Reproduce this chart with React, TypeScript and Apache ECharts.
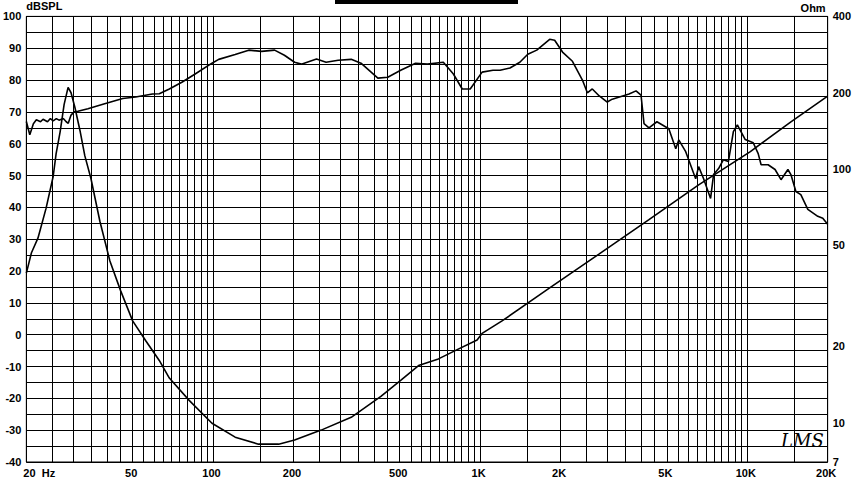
import React, { useEffect, useRef } from "react";
import * as echarts from "echarts";

// SPL response (Hz, dBSPL)
const splFreq = [20, 20.6, 21.25, 21.8, 22.6, 23.1, 24, 24.6, 25.2, 25.9, 26.5, 27.5, 28.2, 28.7, 29.4, 30.2, 31.2, 34, 38.7, 45.9, 51.3, 59.3, 62.9, 68.6, 76.7, 85.7, 99.1, 105, 121, 136, 152, 170, 185, 202, 214, 244, 265, 294, 329, 358, 414, 451, 504, 573, 635, 728, 794, 857, 918, 1017, 1117, 1187, 1293, 1408, 1508, 1629, 1821, 1901, 2034, 2216, 2415, 2520, 2630, 2793, 2991, 3123, 3610, 3834, 4002, 4107, 4286, 4590, 5086, 5400, 5541, 5883, 6410, 6577, 6865, 7290, 7480, 7810, 8144, 8500, 8873, 9183, 9830, 10530, 10990, 11270, 11970, 12710, 13380, 14200, 14570, 15210, 15870, 16860, 18370, 19180, 20000];
const splDb = [67, 62.8, 66.3, 67.5, 66.9, 67.7, 66.9, 67.9, 67.2, 67.9, 67.4, 67.9, 66.9, 66.4, 69, 70, 70.2, 71, 72.4, 74.2, 74.7, 75.6, 75.7, 77.2, 79.4, 81.9, 85.3, 86.5, 88, 89.4, 89, 89.4, 87.8, 85.6, 85, 86.6, 85.6, 86.2, 86.5, 85.3, 80.6, 80.9, 83.1, 85.3, 85, 85.6, 81.9, 77.2, 77.2, 82.5, 83.1, 83.1, 83.8, 85.6, 88.1, 89.4, 92.8, 92.5, 88.8, 85.9, 80, 76, 77.2, 75, 73.1, 74, 75.6, 76.6, 75.3, 66.3, 65, 66.9, 64.7, 58.4, 61.2, 57.5, 49, 52.8, 49, 42.8, 50.3, 52.2, 55, 54.4, 63.8, 65.9, 61.3, 60.3, 56.9, 53.4, 53.4, 51.9, 48.7, 51.9, 50.3, 45, 44, 39.4, 37.2, 36.6, 34.7];

// Impedance (Hz, Ohm)
const impFreq = [20, 20.9, 22.1, 23.7, 25.2, 25.85, 26.75, 27.7, 28.66, 29.4, 30.4, 31.75, 33.1, 34.9, 37.7, 41.1, 45.1, 50, 55.9, 62.9, 68.6, 81.4, 99.1, 121, 148, 176, 202, 254, 329, 425, 504, 588, 698, 828, 974, 1017, 1208, 1821, 2793, 4286, 6577, 10270, 14570, 20000];
const impOhm = [38.9, 46.8, 53.4, 70, 93.5, 115, 140, 180, 210, 200, 175, 142, 113, 91.8, 62.3, 43.4, 33.1, 25.2, 21.1, 17.6, 15, 12.25, 9.95, 8.77, 8.23, 8.23, 8.54, 9.35, 10.5, 12.7, 14.7, 16.8, 17.85, 19.5, 21.2, 22.5, 25.2, 34, 46.3, 63.2, 86.6, 117.2, 153.5, 193.8];

// Axis ticks / grid
const xGridFreqs = [20, 25, 30, 35, 40, 45, 50, 55, 60, 65, 70, 75, 80, 85, 90, 95, 100, 150, 200, 250, 300, 350, 400, 450, 500, 550, 600, 650, 700, 750, 800, 850, 900, 950, 1000, 1500, 2000, 2500, 3000, 3500, 4000, 4500, 5000, 5500, 6000, 6500, 7000, 7500, 8000, 8500, 9000, 9500, 10000, 15000, 20000];
const xLabelFreqs = [20, 50, 100, 200, 500, 1000, 2000, 5000, 10000, 20000];
const xLabelTexts = ["20  Hz", "50", "100", "200", "500", "1K", "2K", "5K", "10K", "20K"];
const ohmTicks = [7, 10, 20, 50, 100, 200, 400];

const FONT = "Liberation Sans";
const labelStyle = { color: "#000", fontFamily: FONT, fontWeight: "bold" as const, fontSize: 11 };

export default function App() {
  const ref = useRef<HTMLDivElement>(null);
  useEffect(() => {
    const chart = echarts.init(ref.current!, null, { renderer: "svg" });
    const option: any = {
      animation: false,
      backgroundColor: "#fff",
      grid: { left: 23, right: 24, top: 14, bottom: 18, show: true, borderColor: "#000", borderWidth: 1, containLabel: false },
      xAxis: {
        type: "log",
        logBase: 10,
        min: 20,
        max: 20000,
        axisLine: { show: true, lineStyle: { color: "#000" } },
        axisTick: { show: false, customValues: xGridFreqs },
        axisLabel: {
          ...labelStyle,
          customValues: xLabelFreqs,
          margin: 5,
          alignMinLabel: "left",
          padding: [0, 0, 0, -3],
          formatter: (v: number) => {
            const i = xLabelFreqs.findIndex((f) => Math.abs(f - v) < 1e-6 * f);
            return i >= 0 ? xLabelTexts[i] : "";
          },
        },
        splitLine: { show: true, lineStyle: { color: "#000", width: 1 } },
      },
      yAxis: [
        {
          type: "value",
          min: -40,
          max: 100,
          interval: 5,
          name: "dBSPL",
          nameLocation: "end",
          nameGap: 3,
          nameTextStyle: { ...labelStyle, align: "left", verticalAlign: "bottom" },
          axisLine: { show: true, lineStyle: { color: "#000" } },
          axisTick: { show: false },
          axisLabel: {
            ...labelStyle,
            margin: 5,
            formatter: (v: number) => (v % 10 === 0 ? String(v) : ""),
          },
          splitLine: { show: true, lineStyle: { color: "#000", width: 1 } },
        },
        {
          type: "log",
          logBase: 10,
          min: 7,
          max: 400,
          position: "right",
          name: "Ohm",
          nameLocation: "end",
          nameGap: 3,
          nameTextStyle: { ...labelStyle, align: "right", verticalAlign: "bottom", padding: [0, 2, 0, 0] },
          axisLine: { show: true, lineStyle: { color: "#000" } },
          axisTick: { show: false, customValues: ohmTicks },
          axisLabel: { ...labelStyle, margin: 5, customValues: ohmTicks },
          splitLine: { show: false },
          minorSplitLine: { show: false },
        },
      ],
      series: [
        {
          name: "SPL",
          type: "line",
          xAxisIndex: 0,
          yAxisIndex: 0,
          data: splFreq.map((f, i) => [f, splDb[i]]),
          showSymbol: false,
          symbol: "none",
          lineStyle: { color: "#000", width: 1.6 },
          z: 5,
        },
        {
          name: "Impedance",
          type: "line",
          xAxisIndex: 0,
          yAxisIndex: 1,
          data: impFreq.map((f, i) => [f, impOhm[i]]),
          showSymbol: false,
          symbol: "none",
          lineStyle: { color: "#000", width: 1.6 },
          z: 5,
        },
      ],
      graphic: [
        { type: "rect", left: 335, top: 0, shape: { width: 183, height: 4 }, style: { fill: "#000" } },
        {
          type: "text",
          left: 781,
          top: 431,
          style: { text: "LMS", fill: "#000", font: "italic 18px 'DejaVu Serif'" },
        },
      ],
    };
    chart.setOption(option);
    return () => chart.dispose();
  }, []);
  return (
    <div
      ref={ref}
      style={{ position: "fixed", left: 0, top: 0, width: 854, height: 480, background: "#fff" }}
    />
  );
}
